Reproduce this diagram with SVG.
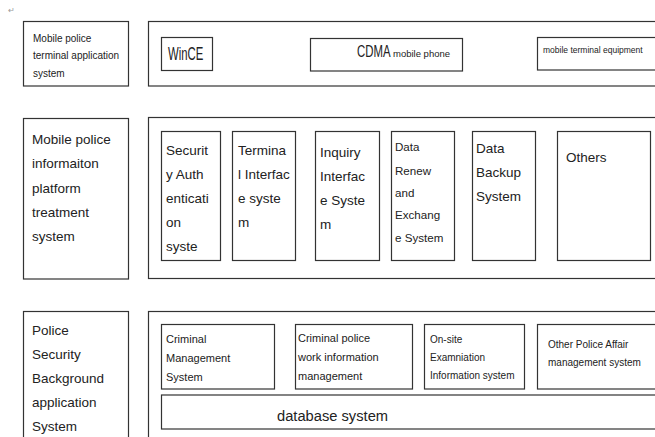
<svg xmlns="http://www.w3.org/2000/svg" width="655" height="437" viewBox="0 0 655 437">
<style>
rect{fill:#fff;stroke:#333;stroke-width:1.2}
text{font-family:"Liberation Sans",Arial,sans-serif;fill:#222}
.t10{font-size:10px}
.t11{font-size:11px}
.t115{font-size:11.6px}
.t135{font-size:13.5px}
.t14{font-size:14px}
</style>
<rect x="0" y="0" width="655" height="437" style="stroke:none"/>
<text x="8" y="13" style="font-size:8px;fill:#999">↵</text>

<g id="row1-label"><rect x="23.5" y="21.5" width="105" height="64.5"/>
<text class="t10"><tspan x="33" y="41.5">Mobile police</tspan><tspan x="33" y="59">terminal application</tspan><tspan x="33" y="76.5">system</tspan></text></g>
<g id="row1-container"><rect x="148.5" y="21.5" width="520" height="64.5"/></g>
<g id="wince"><rect x="161.5" y="37.5" width="51" height="33"/>
<text transform="translate(168,60) scale(0.63,1)" style="font-size:18px">WinCE</text></g>
<g id="cdma"><rect x="310.5" y="38.5" width="152" height="32.5"/>
<text transform="translate(357,57) scale(0.67,1)" style="font-size:17px">CDMA</text>
<text x="393" y="57" style="font-size:9.5px">mobile phone</text></g>
<g id="mte"><rect x="537.5" y="37.5" width="130" height="32.5"/>
<text x="543" y="53" style="font-size:8.5px">mobile terminal equipment</text></g>

<g id="row2-label"><rect x="23.5" y="118.5" width="105" height="160.5"/>
<text class="t135"><tspan x="32" y="144">Mobile police</tspan><tspan x="32" y="168.3">informaiton</tspan><tspan x="32" y="192.5">platform</tspan><tspan x="32" y="216.8">treatment</tspan><tspan x="32" y="241">system</tspan></text></g>
<g id="row2-container"><rect x="148.5" y="117.5" width="520" height="161"/></g>
<g id="security"><rect x="161.5" y="131.5" width="59" height="129"/>
<text class="t135"><tspan x="166" y="155">Securit</tspan><tspan x="166" y="179">y Auth</tspan><tspan x="166" y="203">enticati</tspan><tspan x="166" y="227">on</tspan><tspan x="166" y="251">syste</tspan></text></g>
<g id="terminal"><rect x="232.5" y="131.5" width="63" height="129"/>
<text class="t135"><tspan x="238" y="155">Termina</tspan><tspan x="238" y="179">l Interfac</tspan><tspan x="238" y="203">e syste</tspan><tspan x="238" y="227">m</tspan></text></g>
<g id="inquiry"><rect x="315.5" y="131.5" width="64" height="129"/>
<text class="t135"><tspan x="320" y="157">Inquiry</tspan><tspan x="320" y="181">Interfac</tspan><tspan x="320" y="205">e Syste</tspan><tspan x="320" y="229">m</tspan></text></g>
<g id="renew"><rect x="391.5" y="131.5" width="63" height="129"/>
<text class="t115"><tspan x="395" y="151">Data</tspan><tspan x="395" y="174.5">Renew</tspan><tspan x="395" y="197">and</tspan><tspan x="395" y="219">Exchang</tspan><tspan x="395" y="242">e System</tspan></text></g>
<g id="backup"><rect x="472.5" y="131.5" width="63" height="129"/>
<text class="t135"><tspan x="476" y="153">Data</tspan><tspan x="476" y="177">Backup</tspan><tspan x="476" y="201">System</tspan></text></g>
<g id="others"><rect x="557.5" y="131.5" width="93" height="129"/>
<text class="t135" x="566" y="162">Others</text></g>

<g id="row3-label"><rect x="23.5" y="311.5" width="105" height="140"/>
<text class="t135"><tspan x="32" y="335">Police</tspan><tspan x="32" y="359">Security</tspan><tspan x="32" y="383">Background</tspan><tspan x="32" y="407">application</tspan><tspan x="32" y="431">System</tspan></text></g>
<g id="row3-container"><rect x="148.5" y="311.5" width="520" height="140"/></g>
<g id="criminal-mgmt"><rect x="161.5" y="324.5" width="113" height="64.5"/>
<text class="t11"><tspan x="166" y="343">Criminal</tspan><tspan x="166" y="362">Management</tspan><tspan x="166" y="381">System</tspan></text></g>
<g id="criminal-work"><rect x="295.5" y="324.5" width="117" height="64.5"/>
<text class="t11"><tspan x="298" y="342">Criminal police</tspan><tspan x="298" y="361">work information</tspan><tspan x="298" y="380">management</tspan></text></g>
<g id="onsite"><rect x="424.5" y="324.5" width="100" height="64.5"/>
<text class="t10"><tspan x="430" y="342.5">On-site</tspan><tspan x="430" y="360.5">Examniation</tspan><tspan x="430" y="378.5">Information system</tspan></text></g>
<g id="other-affair"><rect x="537.5" y="324.5" width="130" height="64.5"/>
<text class="t10"><tspan x="548" y="347.5">Other Police Affair</tspan><tspan x="548" y="365.5">management system</tspan></text></g>
<g id="database"><rect x="161.5" y="395" width="507" height="34"/>
<text x="277" y="421" style="font-size:14.7px">database system</text></g>
<g id="connectors"></g>
</svg>
